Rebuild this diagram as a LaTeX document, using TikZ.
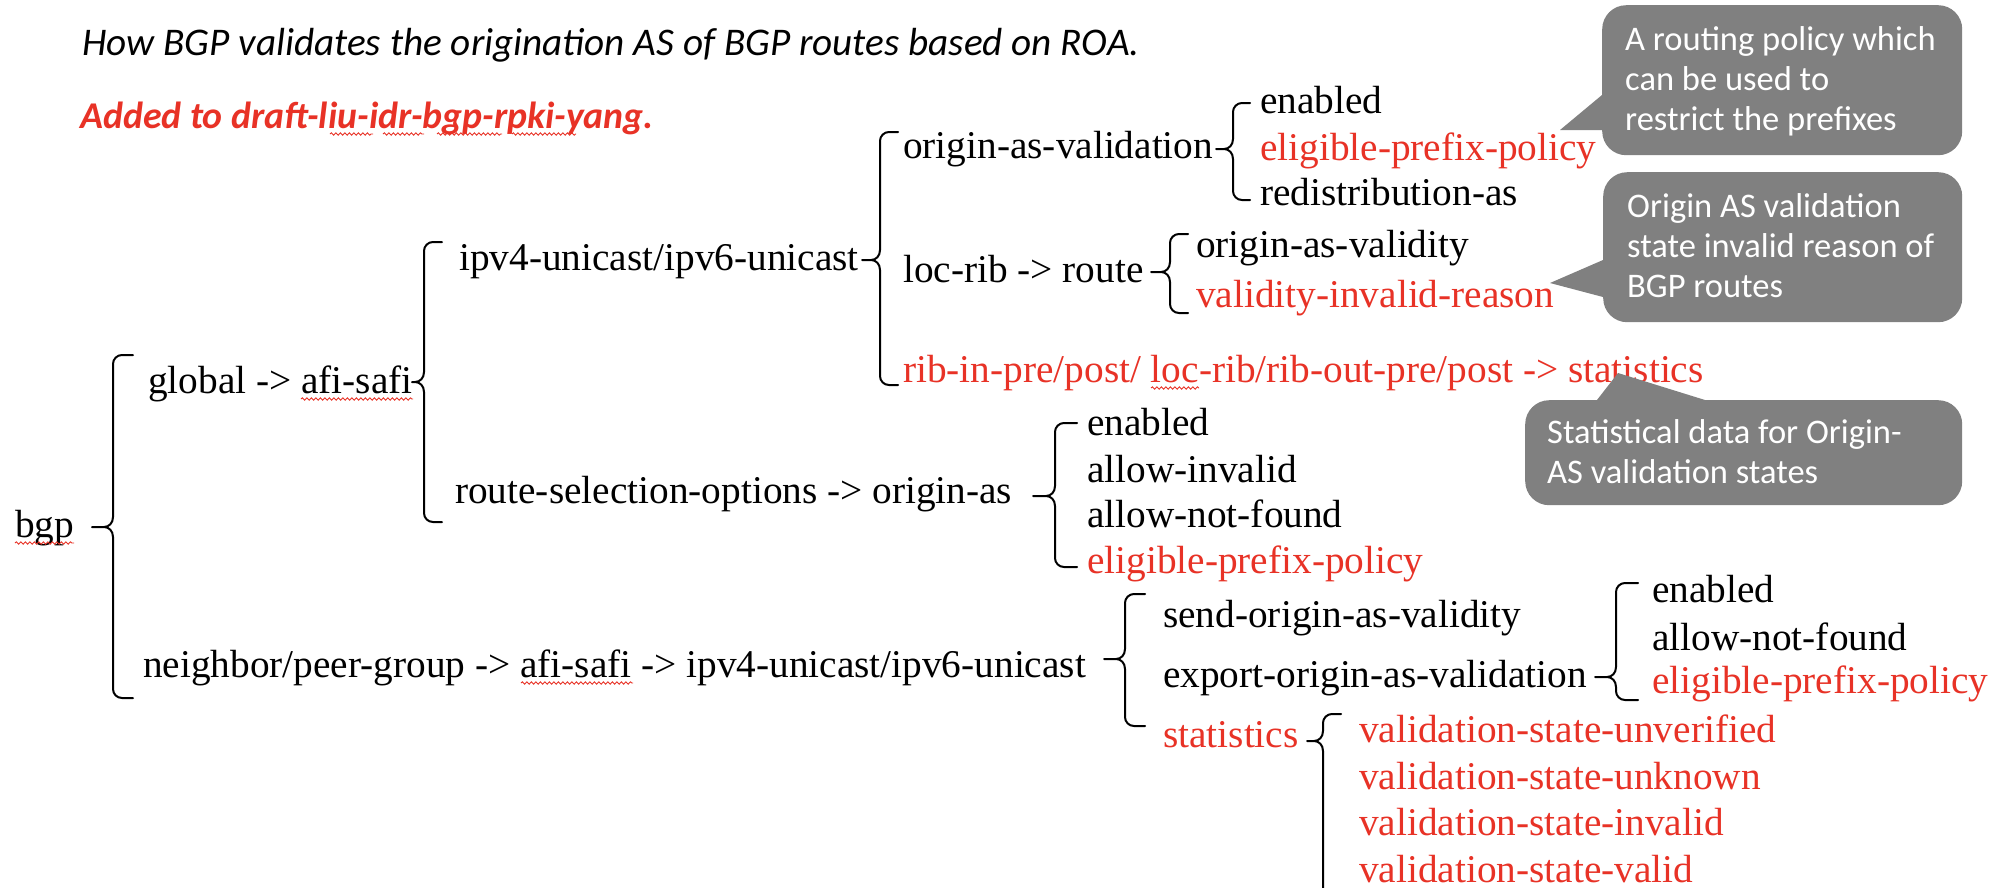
\documentclass[tikz,border=0pt]{standalone}
\usepackage{fontspec}
\setmainfont{Liberation Serif}
\newfontfamily\calfont{Carlito}
\usetikzlibrary{decorations.pathmorphing}
\definecolor{wred}{RGB}{232,50,38}
\definecolor{cgray}{RGB}{128,128,128}
% left brace: xv, ytop, ytip, ybot, xtick, xtip
\newcommand{\brk}[6]{%
  \draw[brace] (#5,#2) -- ({#1+9},#2) .. controls ({#1+4},#2) and (#1,{#2+4}) .. (#1,{#2+9})
    -- (#1,{#3-10}) .. controls (#1,{#3-4}) and ({#1-4},#3) .. ({#1-9},#3) -- (#6,#3)
    (#6,#3) -- ({#1-9},#3) .. controls ({#1-4},#3) and (#1,{#3+4}) .. (#1,{#3+10})
    -- (#1,{#4-9}) .. controls (#1,{#4-4}) and ({#1+4},#4) .. ({#1+9},#4) -- (#5,#4);}
\begin{document}
\begin{tikzpicture}[x=1pt,y=-1pt,
  tx/.style={anchor=base west,inner sep=0pt,font=\fontsize{39.3}{46}\selectfont},
  tr/.style={tx,text=wred},
  brace/.style={line width=2pt,line cap=round,line join=round},
  squig/.style={draw=wred,line width=0.9pt,decorate,decoration={snake,segment length=4.5pt,amplitude=1.2pt}},
  cbox/.style={fill=cgray,rounded corners=24pt,anchor=north west,inner sep=0pt},
  ctext/.style={anchor=north west,inner sep=0pt,align=left,text=white,font=\calfont\fontsize{34.5}{40}\selectfont}]
\clip (0,0) rectangle (2005,887);
\fill[white] (0,0) rectangle (2005,887);

% headings
\node[anchor=base west,inner sep=0pt,font=\calfont\itshape\fontsize{39.2}{46}\selectfont] (title) at (82,55)
  {How BGP validates the origination AS of BGP routes based on ROA.};
\node[anchor=base west,inner sep=0pt,text=wred,font=\calfont\bfseries\itshape\fontsize{37.8}{46}\selectfont] (added) at (80,128)
  {Added to draft-liu-idr-bgp-rpki-yang.};

% tree texts
\node[tx] (bgp) at (15,537) {bgp};
\node[tx] (glob) at (148,393) {global -> afi-safi};
\node[tx] (nbr) at (143,677) {neighbor/peer-group -> afi-safi -> ipv4-unicast/ipv6-unicast};
\node[tx] (uni) at (459,270) {ipv4-unicast/ipv6-unicast};
\node[tx] (rso) at (455,503) {route-selection-options -> origin-as};
\node[tx] (oav) at (903,158) {origin-as-validation};
\node[tx] (loc) at (903,282) {loc-rib -> route};
\node[tr] (rib) at (903,382) {rib-in-pre/post/ loc-rib/rib-out-pre/post -> statistics};
\node[tx] (oen) at (1260,113) {enabled};
\node[tr] (oep) at (1260,160) {eligible-prefix-policy};
\node[tx] (ora) at (1260,205) {redistribution-as};
\node[tx] (lov) at (1196,257) {origin-as-validity};
\node[tr] (lir) at (1196,307) {validity-invalid-reason};
\node[tx] (ren) at (1087,435) {enabled};
\node[tx] (rai) at (1087,482) {allow-invalid};
\node[tx] (ran) at (1087,527) {allow-not-found};
\node[tr] (rep) at (1087,573) {eligible-prefix-policy};
\node[tx] (sov) at (1163,627) {send-origin-as-validity};
\node[tx] (eov) at (1163,687) {export-origin-as-validation};
\node[tr] (sta) at (1163,747) {statistics};
\node[tx] (een) at (1652,602) {enabled};
\node[tx] (ean) at (1652,650) {allow-not-found};
\node[tr] (eep) at (1652,693) {eligible-prefix-policy};
\node[tr] (vsu) at (1359,742) {validation-state-unverified};
\node[tr] (vsk) at (1359,789) {validation-state-unknown};
\node[tr] (vsi) at (1359,835) {validation-state-invalid};
\node[tr] (vsv) at (1359,882) {validation-state-valid};

% braces
\brk{113}{355}{527}{698}{133}{92}
\brk{424}{242}{382}{522}{442}{412}
\brk{880}{132}{260}{385}{898}{862}
\brk{1233}{103}{149}{200}{1250}{1216}
\brk{1170}{234}{272}{313}{1188}{1151}
\brk{1055}{423}{496}{567}{1077}{1033}
\brk{1125}{594}{659}{726}{1145}{1104}
\brk{1616}{583}{677}{700}{1638}{1595}
\brk{1323}{714}{741}{960}{1341}{1307}

% spell-check squiggles
\draw[squig] (330,134) -- (373,134);
\draw[squig] (383,134) -- (424,134);
\draw[squig] (437,134) -- (502,134);
\draw[squig] (512,134) -- (576,134);
\draw[squig] (15,543) -- (74,543);
\draw[squig] (301,399) -- (413,399);
\draw[squig] (521,683) -- (633,683);
\draw[squig] (1151,388) -- (1199,388);

% callouts
\fill[cgray] (1625,95) -- (1602,95) -- (1560,130) -- (1625,130) -- cycle;
\node[cbox,minimum width=360pt,minimum height=150pt] (c1) at (1602,5) {};
\node[ctext] (c1t) at (1625,24) {\rule{0pt}{26pt}A routing policy which\\can be used to\\restrict the prefixes};

\fill[cgray] (1625,260) -- (1603,260) -- (1550,283) -- (1603,297) -- (1625,297) -- cycle;
\node[cbox,minimum width=359pt,minimum height=150pt] (c2) at (1603,172) {};
\node[ctext] (c2t) at (1627,191) {\rule{0pt}{26pt}Origin AS validation\\state invalid reason of\\BGP routes};

\fill[cgray] (1597,415) -- (1597,400) -- (1618,373) -- (1705,400) -- (1705,415) -- cycle;
\node[cbox,minimum width=437pt,minimum height=105pt] (c3) at (1525,400) {};
\node[ctext] (c3t) at (1547,417) {\rule{0pt}{26pt}Statistical data for Origin-\\AS validation states};
\end{tikzpicture}
\end{document}
